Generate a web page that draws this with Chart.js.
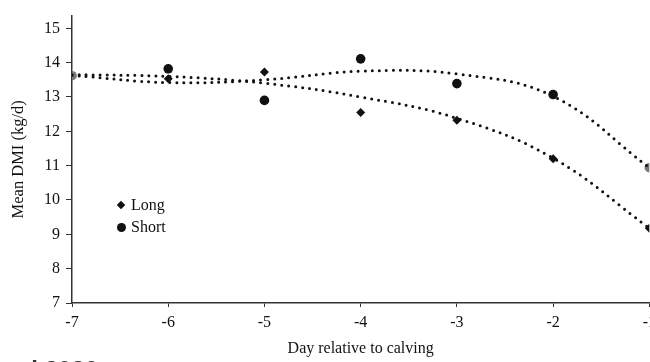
<!DOCTYPE html>
<html>
<head>
<meta charset="utf-8">
<script src="https://cdn.jsdelivr.net/npm/chart.js@4"></script>
<style>
  html, body { margin: 0; padding: 0; background: #fff; overflow: hidden; }
  #wrap { position: relative; width: 662px; height: 362px; }
  .legend { position: absolute; left: 116px; top: 194px; font: 16px "Liberation Serif", serif; color: #111; line-height: 22px; }
  .legend div { position: relative; padding-left: 15px; }
  .dia { position: absolute; left: 2px; top: 8px; width: 6px; height: 6px; background: #111; transform: rotate(45deg); }
  .dot { position: absolute; left: 1px; top: 7px; width: 9px; height: 9px; background: #111; border-radius: 50%; }
  .src { position: absolute; left: -10px; top: 356px; font: bold 24px "Liberation Sans", Arial, sans-serif; color: #333; }
</style>
</head>
<body>
<div id="wrap">
  <canvas id="chart" width="662" height="362"></canvas>
  <div class="legend">
    <div><span class="dia"></span>Long</div>
    <div><span class="dot"></span>Short</div>
  </div>
  <div class="src">et al 2020</div>
</div>
<script>
// 分娩前の日数
const days = [-7, -6, -5, -4, -3, -2, -1];
// 平均DMI (kg/d)
const longValues = [13.62, 13.53, 13.73, 12.55, 12.32, 11.2, 9.18];
const shortValues = [13.62, 13.82, 12.9, 14.11, 13.39, 13.07, 10.94];
// 近似曲線
const longTrend = [13.65, 13.6, 13.4, 13.0, 12.38, 11.22, 9.18];
const shortTrend = [13.63, 13.42, 13.5, 13.75, 13.67, 13.02, 10.94];
const yTicks = [7, 8, 9, 10, 11, 12, 13, 14, 15];

const pts = (vals) => days.map((d, i) => ({ x: d, y: vals[i] }));
const serif = "'Liberation Serif', 'Times New Roman', serif";

const trendStyle = {
  type: "line",
  borderColor: "#111",
  borderWidth: 3,
  borderDash: [0, 7],
  borderCapStyle: "round",
  pointRadius: 0,
  tension: 0.4,
  fill: false,
};

new Chart(document.getElementById("chart"), {
  type: "scatter",
  data: {
    datasets: [
      { ...trendStyle, label: "Long trend", data: pts(longTrend) },
      { ...trendStyle, label: "Short trend", data: pts(shortTrend) },
      {
        label: "Long",
        data: pts(longValues),
        pointStyle: "rectRot",
        pointRadius: 4.5,
        pointBackgroundColor: ["#777", "#111", "#111", "#111", "#111", "#111", "#111"],
        pointBorderWidth: 0,
      },
      {
        label: "Short",
        data: pts(shortValues),
        pointStyle: "circle",
        pointRadius: 4.8,
        pointBackgroundColor: ["#777", "#111", "#111", "#111", "#111", "#111", "#777"],
        pointBorderWidth: 0,
      },
    ],
  },
  options: {
    responsive: false,
    animation: false,
    layout: { padding: { top: 6, left: 0, right: 0, bottom: 0 } },
    plugins: { legend: { display: false }, tooltip: { enabled: false } },
    scales: {
      x: {
        type: "linear",
        min: -7,
        max: -1,
        ticks: { stepSize: 1, color: "#111", font: { family: serif, size: 16 }, padding: 6 },
        grid: { drawOnChartArea: false, tickLength: 4, color: "#333" },
        border: { color: "#333", width: 1.5 },
        title: { display: true, text: "Day relative to calving", color: "#111", font: { family: serif, size: 16 }, padding: { top: 11 } },
        afterFit: (s) => { s.height = 59; },
      },
      y: {
        min: 7,
        max: 15.37,
        afterBuildTicks: (s) => { s.ticks = yTicks.map((v) => ({ value: v })); },
        ticks: { color: "#111", font: { family: serif, size: 16 }, padding: 6 },
        grid: { drawOnChartArea: false, tickLength: 6, color: "#333" },
        border: { color: "#333", width: 1.5 },
        title: { display: true, text: "Mean DMI (kg/d)", color: "#111", font: { family: serif, size: 16.5 }, padding: { top: 9, bottom: 4 } },
        afterFit: (s) => { s.width = 72; },
      },
    },
  },
});
</script>
</body>
</html>
